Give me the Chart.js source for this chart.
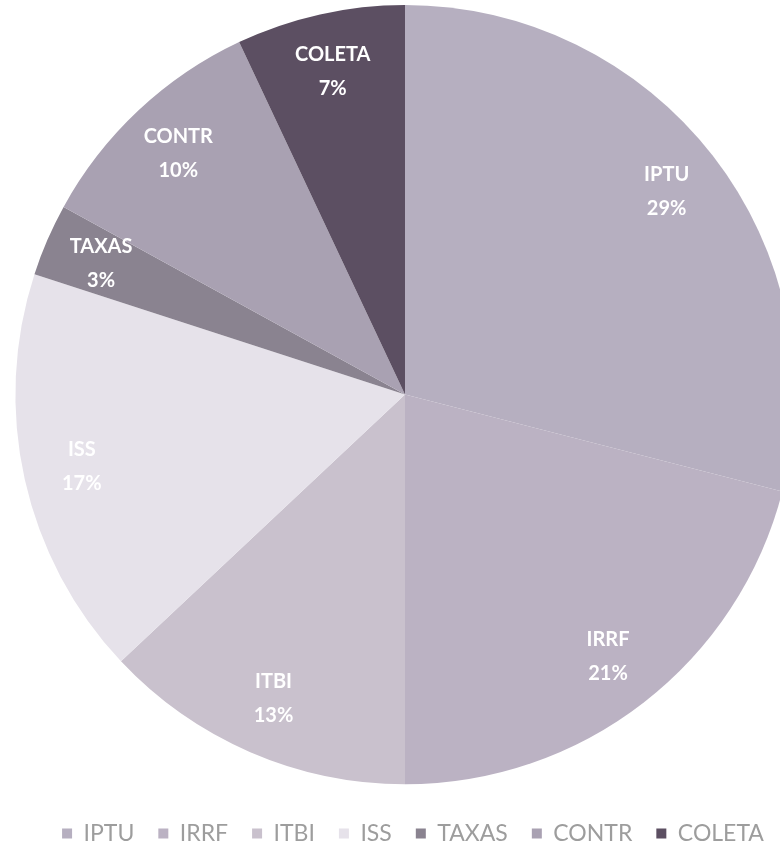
<!DOCTYPE html>
<html>
<head>
<meta charset="utf-8">
<script src="https://cdn.jsdelivr.net/npm/chart.js@4/dist/chart.umd.min.js"></script>
<style>
  html, body { margin: 0; padding: 0; background: #fff; overflow: hidden; }
  #wrap { width: 780px; height: 855px; overflow: hidden; }
</style>
</head>
<body>
<div id="wrap"><canvas id="chart" width="810" height="855"></canvas></div>
<script>
const categories = ['IPTU', 'IRRF', 'ITBI', 'ISS', 'TAXAS', 'CONTR', 'COLETA'];
const shares = [29, 21, 13, 17, 3, 10, 7];
const sliceColors = ['#b6afc0', '#bbb2c3', '#c9c1cd', '#e6e2ea', '#8a8390', '#a9a1b2', '#5c4f62'];

// white name + percentage inside each slice, like the spreadsheet labels
const sliceLabels = {
  id: 'sliceLabels',
  afterLayout(chart) {
    // legend row sits a little right of the pie centre in the original
    chart.legend.left += 16;
  },
  afterDatasetsDraw(chart) {
    const ctx = chart.ctx;
    const meta = chart.getDatasetMeta(0);
    ctx.save();
    ctx.fillStyle = '#ffffff';
    ctx.textAlign = 'center';
    ctx.textBaseline = 'middle';
    ctx.font = 'bold 20px Lato, "Open Sans", sans-serif';
    meta.data.forEach((arc, i) => {
      const p = arc.getProps(['x', 'y', 'startAngle', 'endAngle', 'outerRadius']);
      const mid = (p.startAngle + p.endAngle) / 2;
      const r = p.outerRadius * 0.85;
      const x = p.x + Math.cos(mid) * r;
      const y = p.y + Math.sin(mid) * r;
      ctx.fillText(categories[i], x, y - 17);
      ctx.fillText(shares[i] + '%', x, y + 17);
    });
    ctx.restore();
  }
};

new Chart(document.getElementById('chart'), {
  type: 'pie',
  data: {
    labels: categories,
    datasets: [{
      data: shares,
      backgroundColor: sliceColors,
      borderWidth: 0
    }]
  },
  options: {
    responsive: false,
    animation: false,
    layout: { padding: { top: 5, left: 15, right: 15, bottom: 0 } },
    plugins: {
      tooltip: { enabled: false },
      legend: {
        position: 'bottom',
        // blank title only used as a spacer above the legend row
        title: { display: true, text: ' ', font: { size: 4 }, padding: { top: 0, bottom: 9 } },
        labels: {
          color: '#9d9d9d',
          font: { family: 'Lato, "Open Sans", sans-serif', size: 23 },
          boxWidth: 10,
          boxHeight: 10,
          padding: 24
        }
      }
    }
  },
  plugins: [sliceLabels]
});
</script>
</body>
</html>
